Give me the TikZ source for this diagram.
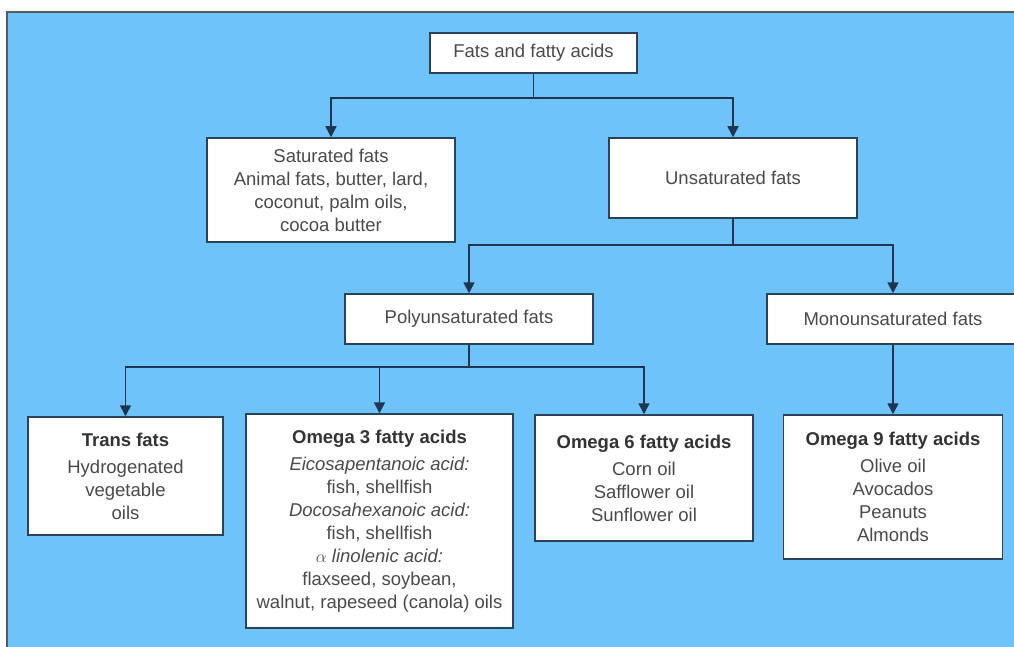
\documentclass[tikz,border=0pt]{standalone}
\usepackage{fontspec}
\setmainfont{Liberation Sans}
\usetikzlibrary{arrows.meta}
\definecolor{bg}{HTML}{6EC3FB}
\definecolor{txt}{HTML}{4A4A4A}
\definecolor{boxedge}{HTML}{2E4257}
\definecolor{conncol}{HTML}{1E3652}
\begin{document}
\begin{tikzpicture}[x=1pt,y=-1pt,
  box/.style={draw=boxedge,line width=1.5pt,fill=white,inner sep=0pt,align=center,text=txt,font=\fontsize{18.5}{23}\selectfont},
  conn/.style={draw=conncol,line width=1.6pt},
  arr/.style={conn,-{Triangle[width=11pt,length=11pt]}}]
\useasboundingbox (0,0) rectangle (1014,647);
\clip (0,0) rectangle (1014,647);
\fill[white] (0,0) rectangle (1014,647);
\fill[bg] (7,12) rectangle (1016,649);
\draw[gray!70!black,line width=1.2pt] (7,649) -- (7,12) -- (1016,12);

\node[box,minimum width=207,minimum height=40] (fats) at (533.5,53) {Fats and fatty acids};
\node[box,minimum width=248,minimum height=104] (sat) at (331,190) {Saturated fats\\Animal fats, butter, lard,\\coconut, palm oils,\\cocoa butter};
\node[box,minimum width=248,minimum height=80] (unsat) at (733,178) {Unsaturated fats};
\node[box,minimum width=248,minimum height=50] (poly) at (469,319) {Polyunsaturated fats};
\node[box,minimum width=252,minimum height=50] (mono) at (893,319) {Monounsaturated fats};
\node[box,minimum width=195,minimum height=118] (trans) at (125.5,476) {\textbf{\color{black!80}Trans fats}\\[4pt]Hydrogenated\\vegetable\\oils};
\node[box,minimum width=267,minimum height=214] (o3) at (379.5,521) {\textbf{\color{black!80}Omega 3 fatty acids}\\[4pt]\textit{Eicosapentanoic acid:}\\fish, shellfish\\\textit{Docosahexanoic acid:}\\fish, shellfish\\$\alpha$ \textit{linolenic acid:}\\flaxseed, soybean,\\walnut, rapeseed (canola) oils};
\node[box,minimum width=218,minimum height=126] (o6) at (644,478) {\textbf{\color{black!80}Omega 6 fatty acids}\\[4pt]Corn oil\\Safflower oil\\Sunflower oil};
\node[box,minimum width=219,minimum height=144] (o9) at (893,487) {\textbf{\color{black!80}Omega 9 fatty acids}\\[4pt]Olive oil\\Avocados\\Peanuts\\Almonds};

\coordinate (fj) at (533.5,98);
\draw[conn] (fats.south) -- (fj);
\draw[arr] (fj) -| (sat.north);
\draw[arr] (fj) -| (unsat.north);

\coordinate (uj) at (733,245);
\draw[conn] (unsat.south) -- (uj);
\draw[arr] (uj) -| (poly.north);
\draw[arr] (uj) -| (mono.north);

\coordinate (pj) at (469,367);
\draw[conn] (poly.south) -- (pj);
\draw[arr] (pj) -| (trans.north);
\draw[arr] (pj) -| (o3.north);
\draw[arr] (pj) -| (o6.north);

\draw[arr] (mono.south) -- (o9.north);
\end{tikzpicture}
\end{document}
